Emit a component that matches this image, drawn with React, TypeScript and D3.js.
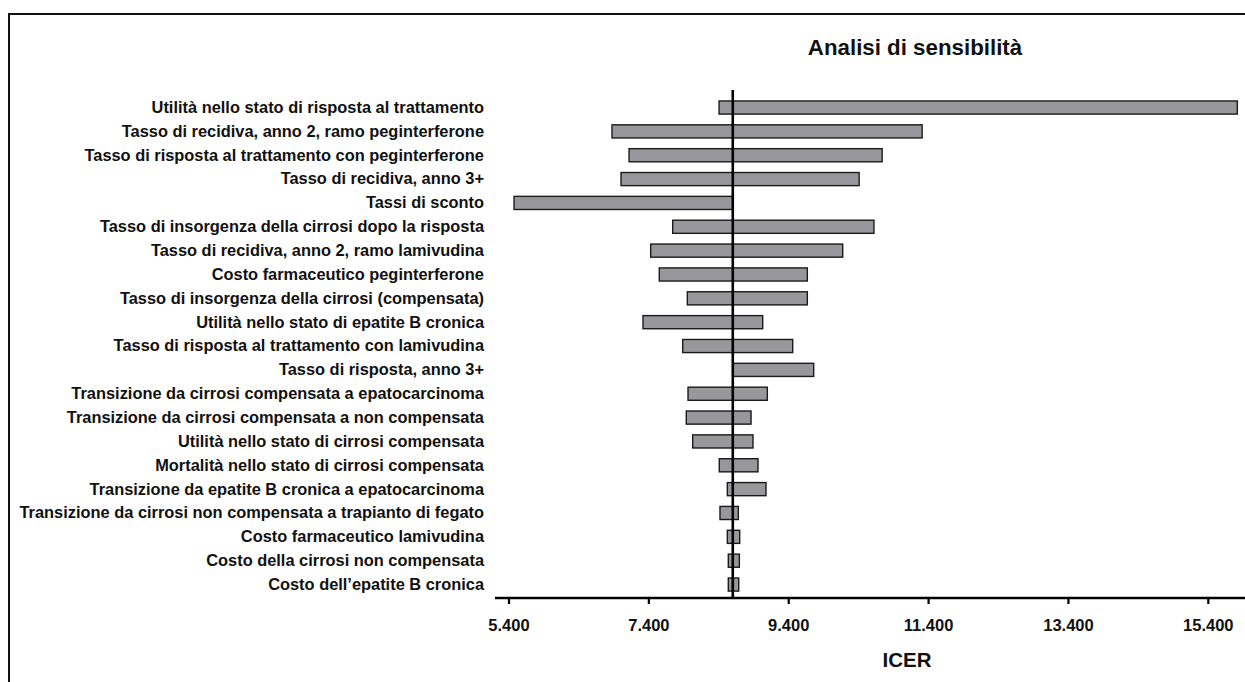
import React from "react";
import * as d3 from "d3";

const categories: string[] = [
  "Utilità nello stato di risposta al trattamento",
  "Tasso di recidiva, anno 2, ramo peginterferone",
  "Tasso di risposta al trattamento con peginterferone",
  "Tasso di recidiva, anno 3+",
  "Tassi di sconto",
  "Tasso di insorgenza della cirrosi dopo la risposta",
  "Tasso di recidiva, anno 2, ramo lamivudina",
  "Costo farmaceutico peginterferone",
  "Tasso di insorgenza della cirrosi (compensata)",
  "Utilità nello stato di epatite B cronica",
  "Tasso di risposta al trattamento con lamivudina",
  "Tasso di risposta, anno 3+",
  "Transizione da cirrosi compensata a epatocarcinoma",
  "Transizione da cirrosi compensata a non compensata",
  "Utilità nello stato di cirrosi compensata",
  "Mortalità nello stato di cirrosi compensata",
  "Transizione da epatite B cronica a epatocarcinoma",
  "Transizione da cirrosi non compensata a trapianto di fegato",
  "Costo farmaceutico lamivudina",
  "Costo della cirrosi non compensata",
  "Costo dell’epatite B cronica",
];

const lowValues: number[] = [
  8404, 6873, 7117, 7002, 5472, 7741, 7426, 7549, 7950, 7316, 7884,
  8600, 7960, 7935, 8027, 8407, 8522, 8417, 8522, 8536, 8536,
];

const highValues: number[] = [
  15815, 11308, 10736, 10407, 8600, 10619, 10172, 9666, 9666, 9028, 9457,
  9757, 9094, 8861, 8889, 8961, 9075, 8679, 8699, 8694, 8685,
];

const baseValue = 8600;
const tickValues: number[] = [5400, 7400, 9400, 11400, 13400, 15400];

const title = "Analisi di sensibilità";
const xTitle = "ICER";

const itLocale = d3.formatLocale({
  decimal: ",",
  thousands: ".",
  grouping: [3],
  currency: ["", " €"],
});
const fmt = itLocale.format(",d");

export default function App() {
  const W = 1245;
  const H = 682;
  const x = d3.scaleLinear().domain([5400, 15400]).range([509, 1208.3]);
  const y = d3
    .scaleBand<string>()
    .domain(categories)
    .range([95.6, 95.6 + 23.85 * categories.length])
    .paddingInner(0.45)
    .paddingOuter(0.225);
  const axisY = 598;
  const font = "'Liberation Sans', Arial, Helvetica, sans-serif";
  return (
    <svg
      width={W}
      height={H}
      style={{ position: "absolute", left: 0, top: 0, background: "#fff" }}
      fontFamily={font}
    >
      {/* frame */}
      <line x1={9} y1={14} x2={W} y2={14} stroke="#111" strokeWidth={2} />
      <line x1={9} y1={13} x2={9} y2={H} stroke="#111" strokeWidth={2} />

      <text x={915} y={55} textAnchor="middle" fontSize={22.3} fontWeight="bold" fill="#111">
        {title}
      </text>

      {categories.map((c, i) => {
        const lo = Math.min(lowValues[i], highValues[i]);
        const hi = Math.max(lowValues[i], highValues[i]);
        const yy = y(c) as number;
        return (
          <g key={c}>
            <text
              x={484}
              y={yy + y.bandwidth() / 2}
              dy="0.33em"
              textAnchor="end"
              fontSize={16.4}
              fontWeight="bold"
              fill="#111"
            >
              {c}
            </text>
            <rect
              x={x(lo)}
              y={yy}
              width={x(hi) - x(lo)}
              height={y.bandwidth()}
              fill="#98979c"
              stroke="#1a1a1a"
              strokeWidth={1.4}
            />
          </g>
        );
      })}

      {/* base line */}
      <line
        x1={x(baseValue)}
        x2={x(baseValue)}
        y1={90}
        y2={axisY}
        stroke="#000"
        strokeWidth={2.6}
      />

      {/* axis */}
      <line x1={495} x2={W} y1={axisY} y2={axisY} stroke="#000" strokeWidth={2.4} />
      {tickValues.map((t) => (
        <g key={t}>
          <line x1={x(t)} x2={x(t)} y1={axisY} y2={axisY + 6} stroke="#000" strokeWidth={2.2} />
          <text
            x={x(t)}
            y={631}
            textAnchor="middle"
            fontSize={16.5}
            fontWeight="bold"
            fill="#111"
          >
            {fmt(t)}
          </text>
        </g>
      ))}
      <text x={907} y={667} textAnchor="middle" fontSize={20.5} fontWeight="bold" fill="#111">
        {xTitle}
      </text>
    </svg>
  );
}
